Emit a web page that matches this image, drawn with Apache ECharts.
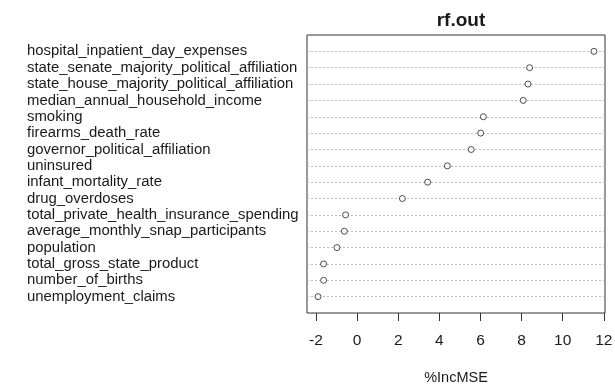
<!DOCTYPE html>
<html>
<head>
<meta charset="utf-8">
<script src="https://cdn.jsdelivr.net/npm/echarts@6/dist/echarts.min.js"></script>
<style>
html,body{margin:0;padding:0;background:#fff;}
#chart{width:615px;height:388px;}
</style>
</head>
<body>
<div id="chart"></div>
<script>
// Variables, top to bottom as shown in the chart
var categories = [
  'hospital_inpatient_day_expenses',
  'state_senate_majority_political_affiliation',
  'state_house_majority_political_affiliation',
  'median_annual_household_income',
  'smoking',
  'firearms_death_rate',
  'governor_political_affiliation',
  'uninsured',
  'infant_mortality_rate',
  'drug_overdoses',
  'total_private_health_insurance_spending',
  'average_monthly_snap_participants',
  'population',
  'total_gross_state_product',
  'number_of_births',
  'unemployment_claims'
];
// %IncMSE values
var incMSE = [11.52, 8.39, 8.31, 8.08, 6.14, 6.01, 5.55, 4.39, 3.43, 2.20, -0.56, -0.62, -0.98, -1.63, -1.63, -1.90];
var xTicks = [-2, 0, 2, 4, 6, 8, 10, 12];
var titleText = 'rf.out';
var xName = '%IncMSE';

// R-style 4% axis extension
var dmin = Math.min.apply(null, incMSE), dmax = Math.max.apply(null, incMSE);
var ext = (dmax - dmin) * 0.04;
var axisCats = [''].concat(categories).concat(['']);
var points = categories.map(function (c, i) { return [incMSE[i], c]; });

var FONT = 'Liberation Sans, Arial, sans-serif';
var chart = echarts.init(document.getElementById('chart'), null, {renderer: 'canvas'});
chart.setOption({
  animation: false,
  backgroundColor: '#fff',
  title: {
    text: titleText,
    left: 456, textAlign: 'center', top: 6,
    textStyle: {fontFamily: FONT, fontSize: 19, fontWeight: 'bold', color: '#1a1a1a'}
  },
  grid: {
    left: 307, right: 10, top: 35, bottom: 75,
    outerBoundsMode: 'none', containLabel: false,
    show: true, borderColor: '#333', borderWidth: 1, backgroundColor: 'transparent'
  },
  xAxis: {
    type: 'value',
    min: dmin - ext, max: dmax + ext,
    axisLine: {show: false},
    splitLine: {show: false},
    axisTick: {show: true, length: 8, customValues: xTicks, lineStyle: {color: '#333'}},
    axisLabel: {customValues: xTicks, margin: 20, fontFamily: FONT, fontSize: 15.5, color: '#1a1a1a'},
    name: xName, nameLocation: 'middle', nameGap: 57,
    nameTextStyle: {fontFamily: FONT, fontSize: 14.5, color: '#1a1a1a'}
  },
  yAxis: {
    type: 'category',
    data: axisCats,
    inverse: true,
    boundaryGap: false,
    axisLine: {show: false},
    axisTick: {show: false},
    axisLabel: {interval: 0, margin: 280, align: 'left', fontFamily: FONT, fontSize: 14.9, color: '#1a1a1a'},
    splitLine: {show: true, interval: 0, showMinLine: false, showMaxLine: false,
      lineStyle: {color: '#bbb', type: [2, 2], width: 1}}
  },
  series: [{
    type: 'scatter',
    data: points,
    symbol: 'circle',
    symbolSize: 6,
    itemStyle: {color: '#fff', borderColor: '#222', borderWidth: 1}
  }]
});
</script>
</body>
</html>
